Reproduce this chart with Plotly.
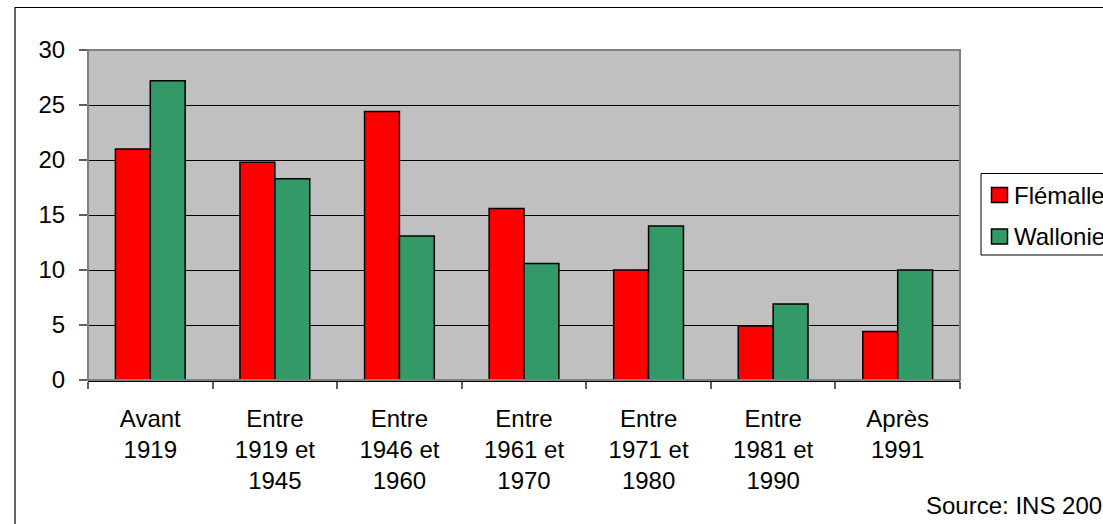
import plotly.graph_objects as go

# Housing stock by construction period (%)
categories = [
    "Avant<br>1919",
    "Entre<br>1919 et<br>1945",
    "Entre<br>1946 et<br>1960",
    "Entre<br>1961 et<br>1970",
    "Entre<br>1971 et<br>1980",
    "Entre<br>1981 et<br>1990",
    "Après<br>1991",
]
flemalle = [21.0, 19.8, 24.4, 15.6, 10.0, 4.9, 4.4]
wallonie = [27.2, 18.3, 13.1, 10.6, 14.0, 6.9, 10.0]
y_ticks = [0, 5, 10, 15, 20, 25, 30]
series_names = ["Flémalle", "Wallonie"]
source_text = "Source: INS 2001"

FONT = "Liberation Sans, Arial, sans-serif"
FS = 24
RED = "#FF0000"
GREEN = "#339966"

W, H = 1103, 524
ML, MR, MT, MB = 88, 143, 50, 144
PW, PH = W - ML - MR, H - MT - MB


def px_x(px):
    return (px - ML) / PW


def px_y(py):
    return (H - MB - py) / PH


fig = go.Figure()
for name, vals, col in [(series_names[0], flemalle, RED), (series_names[1], wallonie, GREEN)]:
    fig.add_trace(go.Bar(x=categories, y=vals, name=name,
                         marker=dict(color=col, line=dict(color="black", width=1.5)),
                         showlegend=False))

shapes = [
    # outer chart frame
    dict(type="rect", xref="paper", yref="paper",
         x0=px_x(15), x1=px_x(1120), y0=px_y(540), y1=px_y(7.5),
         line=dict(color="black", width=1.2), fillcolor="rgba(0,0,0,0)", layer="below"),
    # plot-area border
    dict(type="rect", xref="paper", yref="paper", x0=0, x1=1, y0=0, y1=1,
         line=dict(color="#808080", width=2), fillcolor="rgba(0,0,0,0)", layer="above"),
    # legend box
    dict(type="rect", xref="paper", yref="paper",
         x0=px_x(981), x1=px_x(1130), y0=px_y(255), y1=px_y(173.5),
         line=dict(color="black", width=1), fillcolor="white", layer="above"),
]

annotations = [
    dict(text=source_text, xref="paper", yref="paper",
         x=px_x(924), y=px_y(505), xanchor="left", yanchor="middle",
         showarrow=False, font=dict(family=FONT, size=FS, color="black")),
]

# legend swatches and labels
for name, col, cy in [(series_names[0], RED, 195), (series_names[1], GREEN, 236.5)]:
    shapes.append(dict(type="rect", xref="paper", yref="paper",
                       x0=px_x(991.5), x1=px_x(1007.5), y0=px_y(cy + 7.5), y1=px_y(cy - 7.5),
                       line=dict(color="black", width=1.5), fillcolor=col, layer="above"))
    annotations.append(dict(text=name, xref="paper", yref="paper",
                            x=px_x(1012), y=px_y(cy), xanchor="left", yanchor="middle",
                            showarrow=False, font=dict(family=FONT, size=FS, color="black")))

fig.update_layout(
    width=W, height=H,
    margin=dict(l=ML, r=MR, t=MT, b=MB, pad=0),
    paper_bgcolor="white",
    plot_bgcolor="#C0C0C0",
    font=dict(family=FONT, size=FS, color="black"),
    barmode="group",
    bargap=0.44,
    bargroupgap=0,
    showlegend=False,
    shapes=shapes,
    annotations=annotations,
)

fig.update_xaxes(
    showgrid=False, zeroline=False,
    showline=True, linecolor="black", linewidth=1.5,
    ticks="outside", tickson="boundaries", ticklen=7, tickcolor="#606060", tickwidth=1.5,
    tickfont=dict(family=FONT, size=FS, color="black"),
    ticklabelstandoff=16,
)
fig.update_yaxes(
    range=[0, 30], tickvals=y_ticks,
    showgrid=True, gridcolor="black", gridwidth=1,
    zeroline=False,
    showline=False,
    ticks="outside", ticklen=8, tickcolor="#606060", tickwidth=1.5,
    tickfont=dict(family=FONT, size=FS, color="black"),
    ticklabelstandoff=9,
)

fig.write_html("out.html")
